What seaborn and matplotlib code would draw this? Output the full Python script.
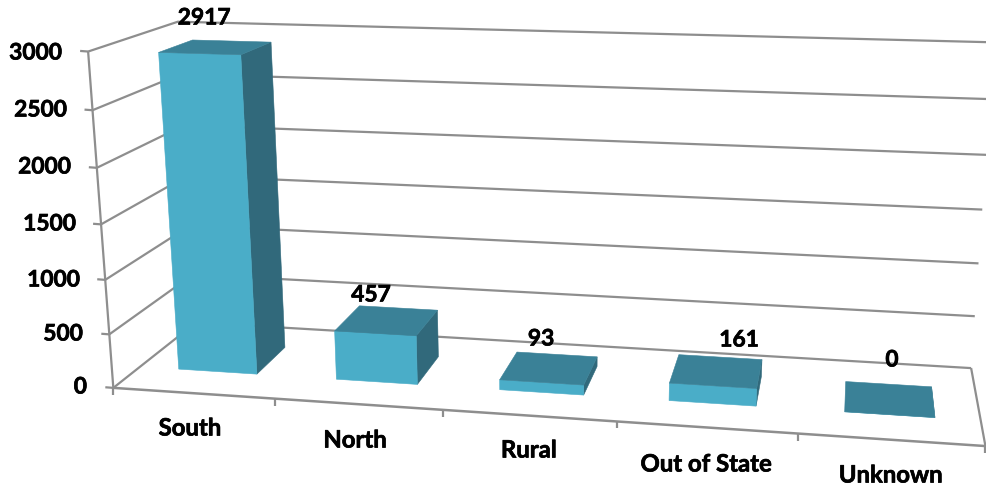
import numpy as np
import pandas as pd
import matplotlib
matplotlib.use("Agg")
import matplotlib.pyplot as plt
from matplotlib.patches import Polygon
from matplotlib.transforms import Transform
import matplotlib.patheffects as pe
import seaborn as sns

# Chart values
regions = ["South", "North", "Rural", "Out of State", "Unknown"]
counts = [2917, 457, 93, 161, 0]
y_ticks = [0, 500, 1000, 1500, 2000, 2500, 3000]

# Styling
FRONT = "#4AADC8"
TOP = "#3A8197"
SIDE = "#31697B"
GRID = "#8E8E8E"
BAR_WIDTH = 0.50
DEPTH_NEAR, DEPTH_FAR = 0.30, 0.70
WIDTH, HEIGHT = 986, 491
VMAX = 3000.0
TEXT_STYLE = dict(fontweight="bold", color="black", zorder=6,
                  path_effects=[pe.withStroke(linewidth=0.5, foreground="black")])
WORD_SIZE = 17.2
DIGIT_SIZE = 16.4

# Camera calibration: (category unit, value, depth) -> canvas pixel
CAMERA_POINTS = [
    ((0, 0, 0), (113, 388)), ((5, 0, 0), (985, 446)),
    ((0, 0, 1), (196, 323)), ((5, 0, 1), (971, 368)),
    ((0, 3000, 0), (88, 52)), ((0, 3000, 1), (178, 21.6)),
    ((5, 3000, 1), (994, 42)), ((1, 0, 0), (275, 398)),
    ((2, 0, 0), (443, 408)), ((3, 0, 0), (617, 422.5)),
    ((4, 0, 0), (798, 434.5)),
]


def solve_camera(points):
    rows, rhs = [], []
    for (u, v, d), (x, y) in points:
        w = v / VMAX
        rows.append([u, w, d, 1, 0, 0, 0, 0, -x * u, -x * w, -x * d])
        rhs.append(x)
        rows.append([0, 0, 0, 0, u, w, d, 1, -y * u, -y * w, -y * d])
        rhs.append(y)
    p = np.linalg.lstsq(np.array(rows, float), np.array(rhs, float), rcond=None)[0]
    return np.append(p, 1.0).reshape(3, 4)


CAMERA = solve_camera(CAMERA_POINTS)


def project(u, v, d):
    u, v, d = np.broadcast_arrays(np.asarray(u, float), np.asarray(v, float), np.asarray(d, float))
    h = np.stack([u, v / VMAX, d, np.ones_like(u)], axis=-1) @ CAMERA.T
    return h[..., :2] / h[..., 2:3]


class DepthPlane(Transform):
    """Maps (category position, value) on a plane of constant depth to pixels."""
    input_dims = output_dims = 2
    is_affine = False

    def __init__(self, plane_depth):
        super().__init__()
        self.plane_depth = plane_depth

    def transform_non_affine(self, values):
        values = np.asarray(values, float)
        return project(values[:, 0] + 0.5, values[:, 1], self.plane_depth)


sns.set_theme(style="white")
plt.rcParams["font.family"] = ["Lato", "DejaVu Sans"]

fig = plt.figure(figsize=(WIDTH / 100, HEIGHT / 100), dpi=100)
ax = fig.add_axes([0, 0, 1, 1])
frame = pd.DataFrame({"region": regions, "count": counts})
sns.barplot(data=frame, x="region", y="count", color=FRONT, saturation=1,
            width=BAR_WIDTH, ax=ax)
ax.set_xlim(0, WIDTH)
ax.set_ylim(HEIGHT, 0)
ax.set_axis_off()


def line(points, lw=1.6, z=1):
    pts = np.array(points)
    ax.plot(pts[:, 0], pts[:, 1], color=GRID, lw=lw, zorder=z, solid_capstyle="butt")


# Walls: gridlines run along the side wall and across the back wall
for tick in y_ticks:
    line([project(0, tick, 0), project(0, tick, 1), project(5, tick, 1)])
    start = project(0, tick, 0)
    line([start, start + np.array([-8, -0.6])])

# Axis edges and floor outline
line([project(0, 0, 0), project(0, VMAX, 0)])
line([project(0, 0, 0), project(5, 0, 0)], lw=1.8)
line([project(5, 0, 0), project(5, 0, 1)])
for u in range(6):
    p = project(u, 0, 0)
    line([p, p + np.array([0, 7])])

# Bars: the front face comes from seaborn, top and side follow its geometry
front_plane = DepthPlane(DEPTH_NEAR) + ax.transData
for patch, value in zip(ax.patches, counts):
    x0, x1 = patch.get_x() + 0.5, patch.get_x() + patch.get_width() + 0.5
    near, far = DEPTH_NEAR, DEPTH_FAR
    side = project([x1, x1, x1, x1], [0, 0, value, value], [near, far, far, near])
    top = project([x0, x1, x1, x0], [value] * 4, [near, near, far, far])
    ax.add_patch(Polygon(side, closed=True, fc=SIDE, ec=SIDE, lw=0.4, zorder=3))
    patch.set_transform(front_plane)
    patch.set_edgecolor(FRONT)
    patch.set_linewidth(0.4)
    patch.set_zorder(4)
    patch.set_clip_on(False)
    ax.add_patch(Polygon(top, closed=True, fc=TOP, ec=TOP, lw=0.4, zorder=5))

# Text
TICK_LABEL_RIGHT = [87, 83, 80, 76, 71, 67, 62]
TICK_LABEL_Y = [387, 334, 280, 224, 167, 110, 53]
for tick, tx, ty in zip(y_ticks, TICK_LABEL_RIGHT, TICK_LABEL_Y):
    ax.text(tx, ty, str(tick), ha="right", va="center", fontsize=DIGIT_SIZE, **TEXT_STYLE)

CATEGORY_XY = [(190, 428), (355, 440), (529, 450), (706, 464), (891, 475)]
for name, (tx, ty) in zip(regions, CATEGORY_XY):
    ax.text(tx, ty, name, ha="center", va="center", fontsize=WORD_SIZE, **TEXT_STYLE)

VALUE_XY = [(204, 18), (371, 295), (541, 339), (739, 340), (892, 360)]
for value, (tx, ty) in zip(counts, VALUE_XY):
    ax.text(tx, ty, str(value), ha="center", va="center", fontsize=DIGIT_SIZE, **TEXT_STYLE)

fig.savefig("out.png", dpi=100)
